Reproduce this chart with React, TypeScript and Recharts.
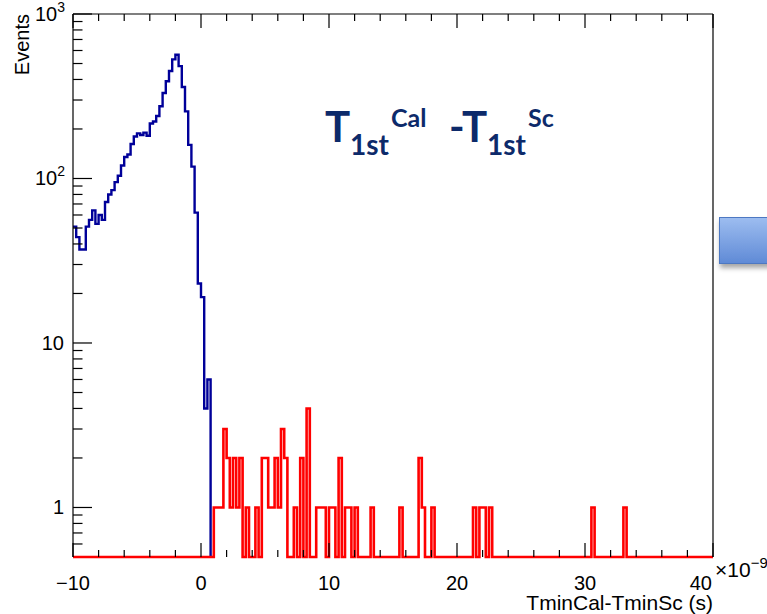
import React from 'react';
import { ComposedChart, Line, XAxis, YAxis } from 'recharts';

// histogram binning, in ns (axis is x10^-9 s)
const BIN_LO = -10;
const BIN_W = 0.25;
const N_BINS = 200;
const Y_FLOOR = 0.5; // empty bins sit on the axis minimum, like ROOT does on log scale
const X_MIN = -10;
const X_MAX = 40;
const Y_MAX = 1000;

// blue histogram, first bin starts at -10
const blueCounts = [
  51, 44, 37, 37, 51, 56, 64, 53, 60, 56,
  72, 80, 85, 95, 104, 120, 135, 140, 162, 180,
  188, 184, 190, 182, 216, 222, 240, 275, 331, 390,
  450, 530, 565, 482, 360, 256, 160, 118, 62, 23,
  19, 4, 6,
];

// red histogram, first bin starts at +1 (4 bins per ns)
const RED_START = 1;
const redCounts = [
  1, 1, 1, 3, // 1
  2, 1, 2, 1, // 2
  2, 0, 1, 0, // 3
  0, 1, 0, 2, // 4
  2, 1, 1, 2, // 5
  1, 3, 2, 0, // 6
  0, 1, 0, 2, // 7
  0, 4, 0, 0, // 8
  1, 1, 1, 0, // 9
  1, 1, 0, 2, // 10
  0, 1, 1, 0, // 11
  1, 0, 0, 0, // 12
  0, 1, 0, 0, // 13
  0, 0, 0, 0, // 14
  0, 0, 1, 0, // 15
  0, 0, 0, 0, // 16
  2, 1, 0, 0, // 17
  1, 0, 0, 0, // 18
  0, 0, 0, 0, // 19
  0, 0, 0, 0, // 20
  0, 1, 0, 1, // 21
  1, 0, 1, 0, // 22
  0, 0, 0, 0, // 23
  0, 0, 0, 0, // 24
  0, 0, 0, 0, // 25
  0, 0, 0, 0, // 26
  0, 0, 0, 0, // 27
  0, 0, 0, 0, // 28
  0, 0, 0, 0, // 29
  0, 0, 1, 0, // 30
  0, 0, 0, 0, // 31
  0, 0, 0, 0, // 32
  1, 0, 0, 0, // 33
];

const xMajor = [-10, 0, 10, 20, 30, 40];
const xMinorSteps = [2, 4, 6, 8]; // minor ticks after each major
const yMajor = [1, 10, 100, 1000];
const yMinorFactors = [2, 3, 4, 5, 6, 7, 8, 9]; // minor ticks inside each decade
const yBelowOne = [0.6, 0.7, 0.8, 0.9];

const FONT = "'Liberation Sans', Arial, Helvetica, sans-serif";
const NAVY = '#0d2a6a';
const MAJ_X = 14;
const MIN_X = 7;
const MAJ_Y = 19;
const MIN_Y = 9.5;
const TW = 1.2; // tick thickness

const MARGIN = { top: 13, right: 53, bottom: 56, left: 72 };
const W = 767;
const H = 614;
// plot box (each axis takes 1px)
const PLOT_W = W - MARGIN.left - MARGIN.right - 2;
const PLOT_H = H - MARGIN.top - MARGIN.bottom - 2;

const redOffset = Math.round((RED_START - BIN_LO) / BIN_W);
const blueEnd = blueCounts.length; // blue line stops after dropping to the floor

// one point per bin edge; stepAfter draws the histogram outline
const data = Array.from({ length: N_BINS + 1 }, (_, k) => {
  const b = Math.min(k, N_BINS - 1);
  const red = redCounts[b - redOffset] ?? 0;
  let blue: number | null = null;
  if (k < blueEnd) blue = Math.max(blueCounts[k], Y_FLOOR);
  else if (k === blueEnd) blue = Y_FLOOR;
  return {
    x: BIN_LO + k * BIN_W,
    blue,
    red: Math.max(red, Y_FLOOR),
  };
});

const near = (a: number, b: number) => Math.abs(a - b) < 1e-6 * Math.max(1, Math.abs(b));
const fmtX = (v: number) => {
  const r = Math.round(v);
  return r < 0 ? `\u2212${-r}` : `${r}`;
};

// pixel spacing of the axes, used only to place the minor ticks next to each major one
const axisLen = (p: any, fallback: number, key: 'width' | 'height') => {
  const n = Number(p[key]);
  return n > 10 ? n : fallback;
};
const pxPerX = (p: any) => axisLen(p, PLOT_W, 'width') / (X_MAX - X_MIN);
const pxPerDecade = (p: any) => axisLen(p, PLOT_H, 'height') / Math.log10(Y_MAX / Y_FLOOR);

// minor x offsets (px) after the major at v
const xMinorOffsets = (p: any, v: number) =>
  near(v, X_MAX) ? [] : xMinorSteps.map((s) => s * pxPerX(p));

// minor y offsets (px, negative = upwards) around the major m
const yMinorOffsets = (p: any, m: number) => {
  const d = pxPerDecade(p);
  const out: number[] = [];
  if (m < Y_MAX) yMinorFactors.forEach((f) => out.push(-Math.log10(f) * d));
  if (m === 1) yBelowOne.forEach((f) => out.push(-Math.log10(f) * d));
  return out;
};

// ticks point into the frame, ROOT style; tickSize/tickMargin are 0 so x/y sit on the axis line
const renderXBottom = (props: any) => {
  const x = Number(props.x);
  const axisY = Number(props.y);
  const v = Number(props.payload.value);
  const last = near(v, X_MAX);
  return (
    <g>
      <rect x={x - TW / 2} y={axisY - MAJ_X} width={TW} height={MAJ_X} fill="#000" />
      {xMinorOffsets(props, v).map((dx, i) => (
        <rect key={i} x={x + dx - TW / 2} y={axisY - MIN_X} width={TW} height={MIN_X} fill="#000" />
      ))}
      <text
        x={last ? x - 1 : x}
        y={axisY + 33}
        textAnchor={last ? 'end' : 'middle'}
        fontSize={20}
        fontFamily={FONT}
        fill="#000"
      >
        {fmtX(v)}
      </text>
    </g>
  );
};

const renderXTop = (props: any) => {
  const x = Number(props.x);
  const axisY = Number(props.y);
  const v = Number(props.payload.value);
  return (
    <g>
      <rect x={x - TW / 2} y={axisY} width={TW} height={MAJ_X} fill="#000" />
      {xMinorOffsets(props, v).map((dx, i) => (
        <rect key={i} x={x + dx - TW / 2} y={axisY} width={TW} height={MIN_X} fill="#000" />
      ))}
    </g>
  );
};

const renderYLeft = (props: any) => {
  const axisX = Number(props.x);
  const y = Number(props.y);
  const v = Number(props.payload.value);
  const m = yMajor.find((t) => near(v, t)) ?? v;
  let label;
  if (m === 1 || m === 10) {
    label = (
      <text x={axisX - 9} y={y} dy={7} textAnchor="end" fontSize={20} fontFamily={FONT} fill="#000">
        {m}
      </text>
    );
  } else {
    label = (
      <text x={axisX - 8} y={y} dy={7} textAnchor="end" fontSize={20} fontFamily={FONT} fill="#000">
        10
        <tspan dy={-9} fontSize={14}>{Math.round(Math.log10(m))}</tspan>
      </text>
    );
  }
  return (
    <g>
      <rect x={axisX} y={y - TW / 2} width={MAJ_Y} height={TW} fill="#000" />
      {yMinorOffsets(props, m).map((dy, i) => (
        <rect key={i} x={axisX} y={y + dy - TW / 2} width={MIN_Y} height={TW} fill="#000" />
      ))}
      {label}
    </g>
  );
};

const renderYRight = (props: any) => {
  const axisX = Number(props.x);
  const y = Number(props.y);
  const v = Number(props.payload.value);
  const m = yMajor.find((t) => near(v, t)) ?? v;
  return (
    <g>
      <rect x={axisX - MAJ_Y} y={y - TW / 2} width={MAJ_Y} height={TW} fill="#000" />
      {yMinorOffsets(props, m).map((dy, i) => (
        <rect key={i} x={axisX - MIN_Y} y={y + dy - TW / 2} width={MIN_Y} height={TW} fill="#000" />
      ))}
    </g>
  );
};

const axisLineStyle = { stroke: '#000', strokeWidth: TW };

export default function App() {
  return (
    <div style={{ position: 'absolute', left: 0, top: 0, width: W, height: H, background: '#fff' }}>
      <ComposedChart width={W} height={H} data={data} margin={MARGIN}>
        <XAxis
          xAxisId="b"
          dataKey="x"
          type="number"
          domain={[X_MIN, X_MAX]}
          ticks={xMajor}
          interval={0}
          height={1}
          tickSize={0}
          tickMargin={0}
          tickLine={false}
          axisLine={false}
          tick={renderXBottom}
        />
        <XAxis
          xAxisId="t"
          orientation="top"
          dataKey="x"
          type="number"
          domain={[X_MIN, X_MAX]}
          ticks={xMajor}
          interval={0}
          height={1}
          tickSize={0}
          tickMargin={0}
          tickLine={false}
          axisLine={axisLineStyle}
          tick={renderXTop}
        />
        <YAxis
          yAxisId="l"
          type="number"
          scale="log"
          domain={[Y_FLOOR, Y_MAX]}
          ticks={yMajor}
          interval={0}
          width={1}
          tickSize={0}
          tickMargin={0}
          tickLine={false}
          axisLine={axisLineStyle}
          tick={renderYLeft}
        />
        <YAxis
          yAxisId="r"
          orientation="right"
          type="number"
          scale="log"
          domain={[Y_FLOOR, Y_MAX]}
          ticks={yMajor}
          interval={0}
          width={1}
          tickSize={0}
          tickMargin={0}
          tickLine={false}
          axisLine={axisLineStyle}
          tick={renderYRight}
        />
        <Line
          xAxisId="b"
          yAxisId="l"
          dataKey="blue"
          type="stepAfter"
          stroke="#000099"
          strokeWidth={2.4}
          dot={false}
          activeDot={false}
          isAnimationActive={false}
        />
        <Line
          xAxisId="b"
          yAxisId="l"
          dataKey="red"
          type="stepAfter"
          stroke="#ff0000"
          strokeWidth={2.6}
          dot={false}
          activeDot={false}
          isAnimationActive={false}
        />
      </ComposedChart>

      <svg
        width={W}
        height={H}
        style={{ position: 'absolute', left: 0, top: 0, pointerEvents: 'none' }}
      >
        <defs>
          <linearGradient id="boxFill" x1="0" y1="0" x2="0" y2="1">
            <stop offset="0%" stopColor="#9dbdf0" />
            <stop offset="100%" stopColor="#5f8ad6" />
          </linearGradient>
          <filter id="boxShadow" x="-20%" y="-20%" width="140%" height="160%">
            <feDropShadow dx="1" dy="4" stdDeviation="2.5" floodColor="#000" floodOpacity="0.35" />
          </filter>
        </defs>
        <rect x={719.5} y={217.5} width={70} height={46} fill="url(#boxFill)" stroke="#4e78c2" strokeWidth={1} filter="url(#boxShadow)" />

        <text transform="translate(29, 14) rotate(-90)" textAnchor="end" fontSize={20} fontFamily={FONT} fill="#000">
          Events
        </text>
        <text x={713} y={610} textAnchor="end" fontSize={21} fontFamily={FONT} fill="#000">
          TminCal-TminSc (s)
        </text>
        <text x={715} y={577} fontSize={21} fontFamily={FONT} fill="#000">
          {'\u00d710'}
          <tspan dy={-9} fontSize={15}>{'\u22129'}</tspan>
        </text>

        <g fontFamily="Lato, 'Open Sans', sans-serif" fontWeight={700} fill={NAVY}>
          <text x={325} y={142} fontSize={42}>T</text>
          <text x={350} y={155} fontSize={28}>1st</text>
          <text x={391} y={127} fontSize={25}>Cal</text>
          <text x={449} y={142} fontSize={42}>-T</text>
          <text x={487} y={155} fontSize={28}>1st</text>
          <text x={528} y={127} fontSize={25}>Sc</text>
        </g>
      </svg>
    </div>
  );
}
